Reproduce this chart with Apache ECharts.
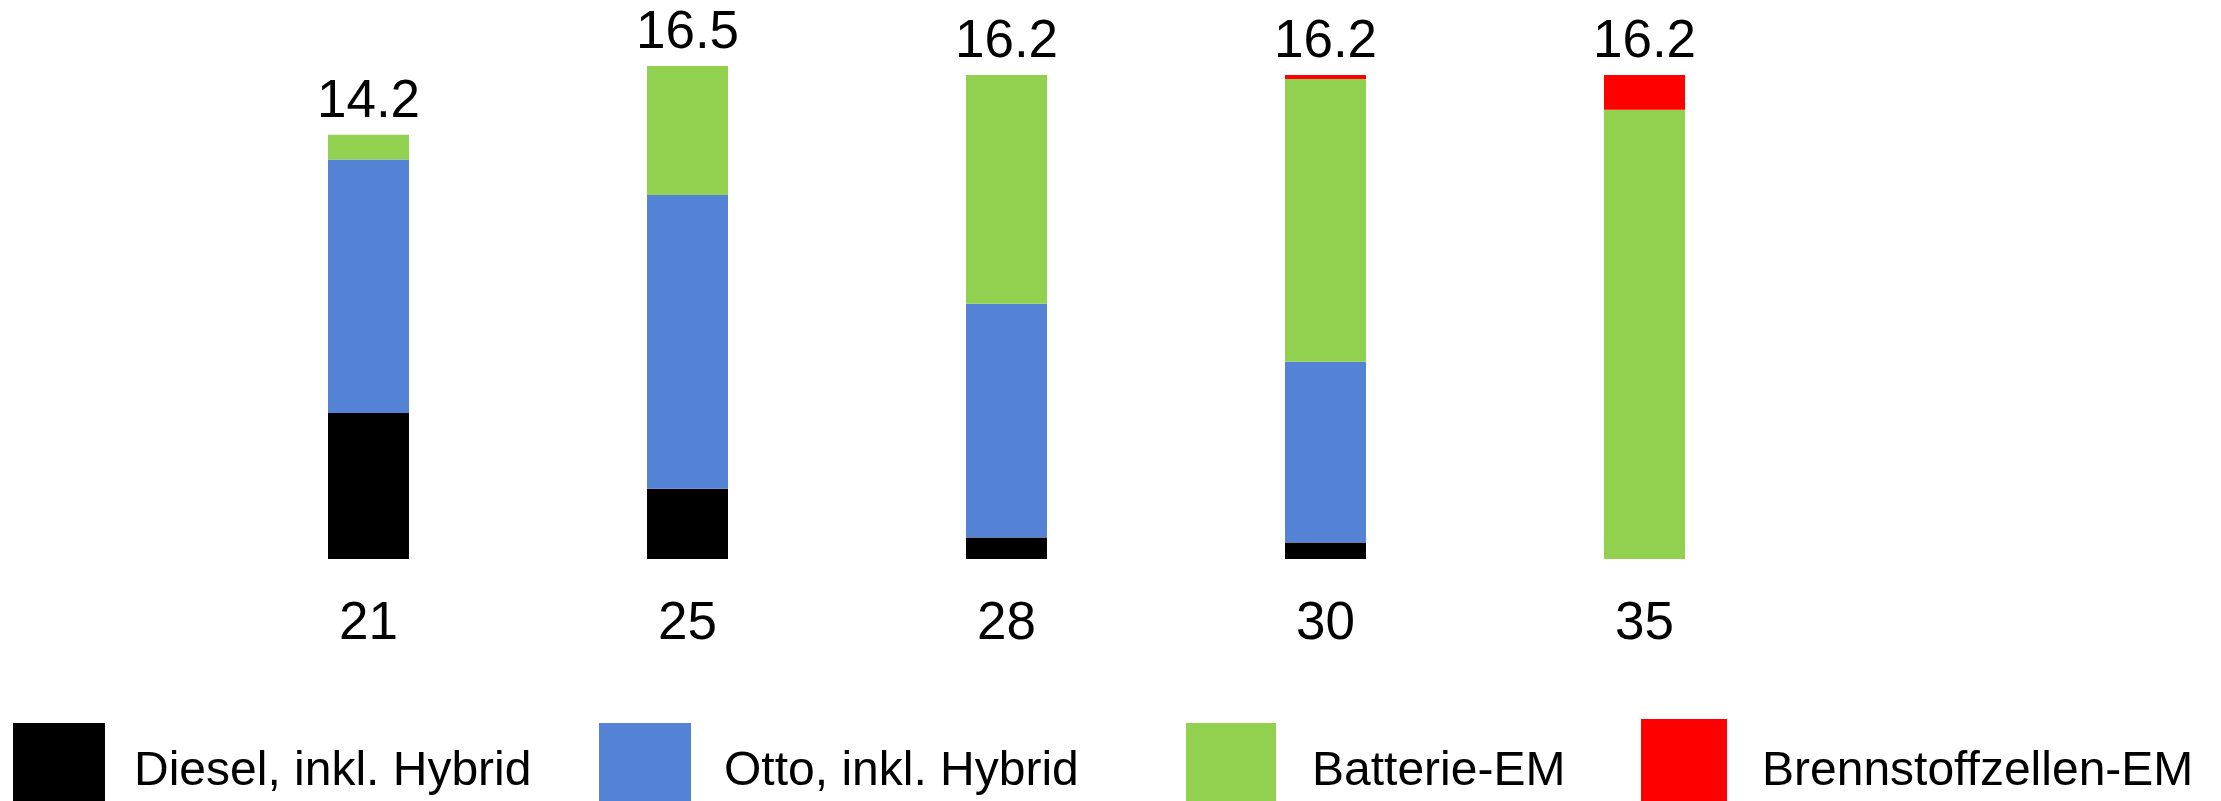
<!DOCTYPE html>
<html>
<head>
<meta charset="utf-8">
<script src="https://cdn.jsdelivr.net/npm/echarts@6/dist/echarts.min.js"></script>
<style>
  html, body { margin: 0; padding: 0; background: #ffffff; }
  #chart { width: 2221px; height: 801px; }
</style>
</head>
<body>
<div id="chart"></div>
<script>
// Antriebsarten je Jahr (Werte je Segment, gestapelt)
const years = ['21', '25', '28', '30', '35'];
const seriesNames = ['Diesel, inkl. Hybrid', 'Otto, inkl. Hybrid', 'Batterie-EM', 'Brennstoffzellen-EM'];
const diesel     = [4.89, 2.35, 0.72, 0.55, 0];
const otto       = [8.48, 9.83, 7.82, 6.05, 0];
const batterie   = [0.83, 4.32, 7.66, 9.46, 15.03];
const brennstoff = [0,    0,    0,    0.14, 1.17];

const colors = ['#000000', '#5483d6', '#92d050', '#ff0000'];
const FONT = '"Liberation Sans", Arial, Helvetica, sans-serif';

const stacks = [diesel, otto, batterie, brennstoff];
// Summe je Balken für die Beschriftung über dem Stapel
const totals = years.map((_, i) => stacks.reduce((s, arr) => s + arr[i], 0));
// oberstes sichtbares Segment je Balken trägt die Summenbeschriftung
const topIndex = years.map((_, i) => {
  let k = 0;
  stacks.forEach((arr, j) => { if (arr[i] > 0) k = j; });
  return k;
});

// Legendenlayout: jede Legende einzeln platziert (Symbole laufen unten aus dem Bild)
const legendLeft = [13, 599, 1186, 1641];
const legendTop  = [723, 723, 723, 719];
const legendW    = [92, 92, 90, 86];
const legendH    = [98, 98, 98, 106];
const legendGap  = [24, 28, 31, 30];

const chart = echarts.init(document.getElementById('chart'), null, { renderer: 'canvas' });

chart.setOption({
  animation: false,
  backgroundColor: '#ffffff',
  textStyle: { fontFamily: FONT },
  grid: { left: 209, right: 417, top: 51, bottom: 242, containLabel: false },
  xAxis: {
    type: 'category',
    data: years,
    axisLine: { show: false },
    axisTick: { show: false },
    splitLine: { show: false },
    axisLabel: { fontSize: 53, color: '#000000', margin: 39, fontFamily: FONT }
  },
  yAxis: {
    type: 'value',
    min: 0,
    max: 17,
    show: false,
    splitLine: { show: false }
  },
  legend: seriesNames.map((name, j) => ({
    data: [name],
    left: legendLeft[j],
    top: legendTop[j],
    orient: 'horizontal',
    padding: 0,
    itemWidth: legendW[j],
    itemHeight: legendH[j],
    icon: 'rect',
    selectedMode: false,
    textStyle: { fontSize: 48, color: '#000000', fontFamily: FONT, padding: [0, 0, 0, legendGap[j]] }
  })),
  series: stacks.map((vals, j) => ({
    name: seriesNames[j],
    type: 'bar',
    stack: 'gesamt',
    barWidth: 81,
    itemStyle: { color: colors[j] },
    label: {
      show: false,
      position: 'top',
      distance: 6,
      fontSize: 53,
      color: '#000000',
      fontFamily: FONT,
      formatter: (p) => totals[p.dataIndex].toFixed(1)
    },
    data: vals.map((v, i) => ({ value: v, label: { show: topIndex[i] === j } }))
  }))
});
</script>
</body>
</html>
